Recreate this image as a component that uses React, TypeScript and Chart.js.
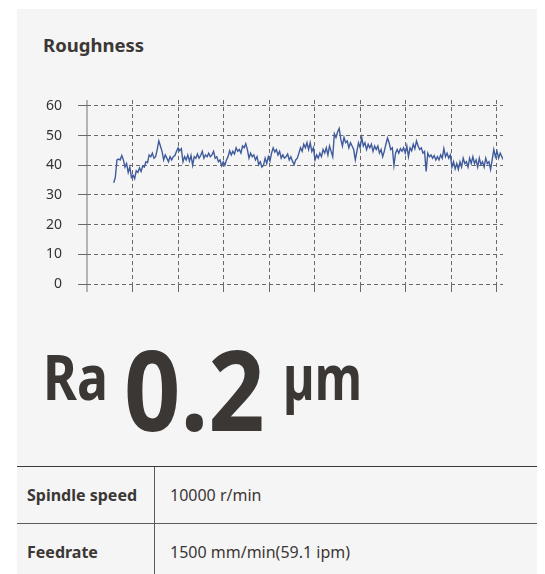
import React, { useEffect, useRef } from "react";
import { Chart, registerables } from "chart.js";

Chart.register(...registerables);

// Y axis ticks
const yTicks = [0, 10, 20, 30, 40, 50, 60];
// Sampling position range along the x axis (grid units)
const X_START = 0.587;
const X_END = 9.15;
// Roughness trace values
const roughness: number[] = [
  34.1, 35.9, 41.8, 42.1, 41.8, 43.3, 41.8, 39.4, 40.6, 37.6,
  39.4, 35.9, 36.7, 35.5, 38.2, 37.6, 39.1, 37.9, 39.8, 39.4,
  41.2, 40.9, 43.5, 42.9, 44.1, 42.4, 42.9, 45.3, 48.2, 46.5,
  44.7, 41.8, 43.5, 42.4, 41.2, 42.9, 41.8, 42.9, 43.3, 44.7,
  45.9, 44.9, 45.6, 41.2, 42.9, 41.8, 43.5, 41.4, 43.3, 40.0,
  42.9, 42.4, 43.8, 42.4, 43.3, 44.7, 42.4, 43.5, 42.9, 44.1,
  42.9, 43.5, 44.7, 42.4, 42.9, 41.2, 41.8, 39.8, 41.2, 40.0,
  41.8, 42.9, 44.9, 43.5, 44.7, 43.8, 45.9, 44.7, 45.3, 44.1,
  46.5, 45.9, 47.3,
  45.3, 42.4, 44.1, 42.9, 43.5, 41.8, 42.9, 40.2, 41.2, 39.4,
  40.0, 42.4, 40.6, 42.9, 41.4, 44.1, 45.9, 44.5, 45.3, 43.5,
  44.7, 42.4, 43.5, 42.4, 42.9, 43.8, 41.8, 42.9, 41.4, 40.2,
  41.8, 42.4, 44.1, 45.9, 44.7, 47.1, 45.9, 47.6, 45.3, 47.6,
  44.7, 45.9, 41.8, 43.5, 42.4, 44.1, 42.9, 45.3, 44.1, 45.9,
  43.5, 46.5, 44.7, 42.9, 50.6, 49.4, 51.2, 52.4, 48.8, 46.5,
  49.4, 47.6, 48.2, 45.9, 47.6, 46.5, 45.3, 41.8, 44.7, 47.6,
  45.9, 49.4, 46.5, 47.6, 45.3, 47.1, 45.9, 47.1, 44.7, 46.5,
  45.3, 46.5, 44.1, 45.3, 42.9, 44.7, 47.1, 49.2, 47.6, 45.3,
  45.9, 40.0, 44.1, 45.3, 44.1, 45.6, 44.7, 45.9, 44.1, 46.5,
  42.9, 45.9, 44.9, 47.1, 45.6, 48.2, 46.5, 45.3, 45.9, 44.1,
  44.7, 37.9, 44.1, 42.9, 43.5, 42.4, 43.3, 41.8, 42.9, 41.8,
  43.5, 42.4, 45.6, 42.9, 44.1, 42.4, 43.5, 39.4, 41.2, 38.8,
  40.6, 38.6, 41.2, 39.4, 42.4, 40.6, 41.2, 39.4, 42.4, 40.6,
  42.9, 40.6, 41.8, 39.4, 42.4, 40.2, 41.2, 39.4, 42.4, 40.6,
  41.2, 38.6, 41.8, 45.3, 42.9, 44.7, 42.4, 44.1, 42.9, 41.8,
];

const TEXT = "#3b3735";
const FONT = "'Noto Sans', 'Open Sans', sans-serif";

export default function App() {
  const ref = useRef<HTMLCanvasElement | null>(null);

  useEffect(() => {
    if (!ref.current) return;
    const step = (X_END - X_START) / (roughness.length - 1);
    const points = roughness.map((v, i) => ({ x: X_START + i * step, y: v }));
    const chart = new Chart(ref.current, {
      type: "line",
      data: {
        datasets: [
          {
            data: points,
            borderColor: "#3f5b9c",
            borderWidth: 1.4,
            pointRadius: 0,
            tension: 0,
            fill: false,
          },
        ],
      },
      options: {
        animation: false,
        responsive: false,
        maintainAspectRatio: false,
        devicePixelRatio: 1,
        layout: { padding: { top: 10, right: 7, left: 0, bottom: 0 } },
        plugins: { legend: { display: false }, tooltip: { enabled: false } },
        scales: {
          x: {
            type: "linear",
            min: 0,
            max: 9.14,
            ticks: { display: false, stepSize: 1, includeBounds: false },
            grid: {
              drawTicks: true,
              tickLength: 8,
              color: (c: any) => (c.tick && c.tick.value === 0 ? "#b4b4b4" : "#6a6a6a"),
              lineWidth: (c: any) => (c.tick && c.tick.value === 0 ? 2 : 1),
            },
            border: {
              display: false,
              dash: (c: any) => (c.tick && c.tick.value === 0 ? [] : [4, 3]),
            },
            afterFit: (s: any) => {
              s.height = 16;
              s.paddingLeft = 0;
              s.paddingRight = 0;
            },
          },
          y: {
            type: "linear",
            min: 0,
            max: 62,
            afterBuildTicks: (s: any) => {
              s.ticks = yTicks.map((v) => ({ value: v }));
            },
            ticks: {
              includeBounds: false,
              padding: 16,
              color: "#333",
              font: { family: FONT, size: 14 },
            },
            grid: { tickLength: 9, color: "#6a6a6a", lineWidth: 1 },
            border: { display: false, dash: [4, 3] },
            afterFit: (s: any) => {
              s.width = 57;
              s.paddingTop = 0;
              s.paddingBottom = 0;
            },
          },
        },
      },
    });
    return () => chart.destroy();
  }, []);

  const abs = (o: React.CSSProperties): React.CSSProperties => ({ position: "absolute", ...o });

  return (
    <div style={abs({ left: 0, top: 0, width: 545, height: 574, background: "#fff", overflow: "hidden", fontFamily: FONT, color: TEXT })}>
      <div style={abs({ left: 17, top: 9, width: 520, height: 565, background: "#f5f5f5" })} />
      <div style={abs({ left: 43, top: 35, fontSize: 18.5, lineHeight: "19px", fontWeight: 700, whiteSpace: "nowrap" })}>Roughness</div>
      <canvas ref={ref} width={480} height={210} style={abs({ left: 30, top: 90, width: 480, height: 210 })} />
      <div style={abs({ left: 43, top: 344, fontSize: 63, lineHeight: "63px", fontWeight: 700, whiteSpace: "nowrap", transform: "scaleX(0.82)", transformOrigin: "left top" })}>Ra</div>
      <div style={abs({ left: 124, top: 333, fontSize: 111, lineHeight: "111px", fontWeight: 700, whiteSpace: "nowrap", transform: "scaleX(0.89)", transformOrigin: "left top" })}>0.2</div>
      <div style={abs({ left: 283, top: 344, fontSize: 63, lineHeight: "63px", fontWeight: 700, whiteSpace: "nowrap", transform: "scaleX(0.77)", transformOrigin: "left top" })}>µm</div>
      <div style={abs({ left: 17, top: 466, width: 520, height: 1, background: "#3a3a3a" })} />
      <div style={abs({ left: 17, top: 523, width: 520, height: 1, background: "#5a5a5a" })} />
      <div style={abs({ left: 154, top: 467, width: 1, height: 107, background: "#5a5a5a" })} />
      <div style={abs({ left: 27, top: 487, fontSize: 16, lineHeight: "16px", fontWeight: 700, whiteSpace: "nowrap" })}>Spindle speed</div>
      <div style={abs({ left: 170, top: 487, fontSize: 16, lineHeight: "16px", whiteSpace: "nowrap" })}>10000 r/min</div>
      <div style={abs({ left: 27, top: 544, fontSize: 16, lineHeight: "16px", fontWeight: 700, whiteSpace: "nowrap" })}>Feedrate</div>
      <div style={abs({ left: 170, top: 544, fontSize: 16, lineHeight: "16px", whiteSpace: "nowrap" })}>1500 mm/min(59.1 ipm)</div>
    </div>
  );
}
